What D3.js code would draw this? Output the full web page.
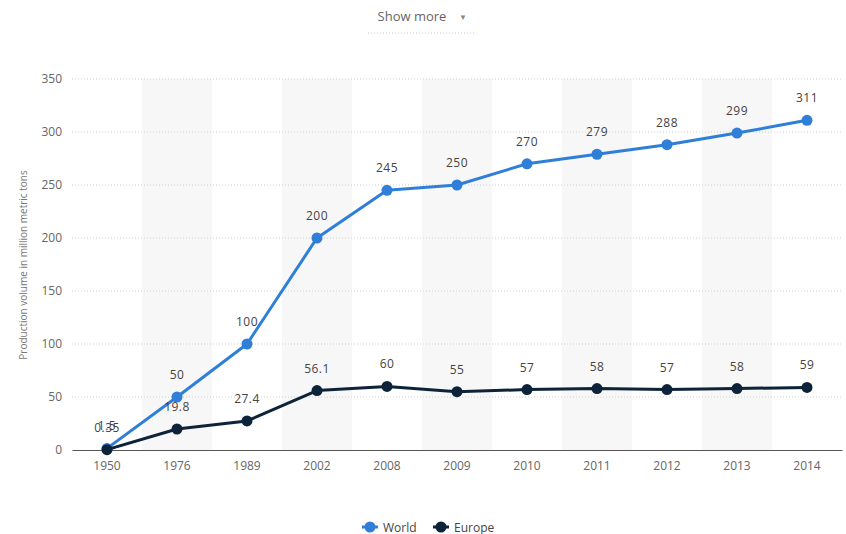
<!DOCTYPE html>
<html><head><meta charset="utf-8">
<script src="https://cdn.jsdelivr.net/npm/d3@7/dist/d3.min.js"></script>
<style>
body{margin:0;background:#fff;}
svg{font-family:"Open Sans","Noto Sans",sans-serif;}
</style></head>
<body><svg id="c" width="846" height="534"></svg>
<script>
const years = ["1950","1976","1989","2002","2008","2009","2010","2011","2012","2013","2014"];
const world = [1.5,50,100,200,245,250,270,279,288,299,311];
const europe = [0.35,19.8,27.4,56.1,60,55,57,58,57,58,59];
const worldLabels = ["1.5","50","100","200","245","250","270","279","288","299","311"];
const europeLabels = ["0.35","19.8","27.4","56.1","60","55","57","58","57","58","59"];
const yTicks = [0,50,100,150,200,250,300,350];

(function(){
const svg = d3.select("#c");
const pL = 72, pR = 842, pT = 79, pB = 450;
const x = d3.scaleBand().domain(years).range([pL, pR]);
const y = d3.scaleLinear().domain([0,350]).range([pB, pT]);

// alternating bands
svg.append("g").selectAll("rect").data(years.filter((d,i)=>i%2===1)).join("rect")
  .attr("x", d=>x(d)).attr("y", pT).attr("width", x.bandwidth()).attr("height", pB-pT)
  .attr("fill","#f7f7f7");

// grid
svg.append("g").selectAll("line").data(yTicks.filter(d=>d>0)).join("line")
  .attr("x1", pL).attr("x2", pR).attr("y1", d=>y(d)).attr("y2", d=>y(d))
  .attr("stroke","#cfcfcf").attr("stroke-dasharray","1,2");

// y axis labels
const ya = svg.append("g").attr("transform",`translate(${pL},0)`)
  .call(d3.axisLeft(y).tickValues(yTicks).tickSize(0).tickPadding(10));
ya.select(".domain").remove();
ya.selectAll("text").attr("fill","#666").attr("font-size","12px").attr("font-family","'Open Sans',sans-serif");

// x axis
const xa = svg.append("g").attr("transform",`translate(0,${pB})`)
  .call(d3.axisBottom(x).tickSize(0).tickPadding(11));
xa.select(".domain").attr("stroke","#555").attr("stroke-width",1.2);
xa.selectAll("text").attr("fill","#666").attr("font-size","12px").attr("font-family","'Open Sans',sans-serif");

// y title
svg.append("text").attr("transform",`translate(27,265) rotate(-90)`).attr("text-anchor","middle")
  .attr("fill","#777").attr("font-size","10px").text("Production volume in million metric tons");

const cx = d => x(d) + x.bandwidth()/2;
const line = d3.line().x((d,i)=>cx(years[i])).y(d=>y(d));

function series(vals, color){
  const g = svg.append("g");
  g.append("path").datum(vals).attr("d", line).attr("fill","none").attr("stroke",color).attr("stroke-width",3).attr("stroke-linejoin","round");
  g.selectAll("circle").data(vals).join("circle").attr("cx",(d,i)=>cx(years[i])).attr("cy",d=>y(d)).attr("r",5.5).attr("fill",color);
}
function labelsFor(vals, labels){
  svg.append("g").selectAll("text").data(vals).join("text")
    .attr("x",(d,i)=>cx(years[i])).attr("y",d=>y(d)-18).attr("text-anchor","middle")
    .attr("fill","#444").attr("font-size","12px").attr("letter-spacing","0.5px")
    .text((d,i)=>labels[i]);
}
series(world, "#2f7ed8");
series(europe, "#0d233a");
labelsFor(world, worldLabels);
labelsFor(europe, europeLabels);

// show more
svg.append("text").attr("x",412).attr("y",21).attr("text-anchor","middle").attr("fill","#666").attr("font-size","13px").text("Show more");
svg.append("text").attr("x",463).attr("y",20).attr("text-anchor","middle").attr("fill","#888").attr("font-size","8px").text("▼");
svg.append("line").attr("x1",368).attr("x2",474).attr("y1",33).attr("y2",33).attr("stroke","#ccc").attr("stroke-dasharray","1,2");

// legend
const leg = [{n:"World",c:"#2f7ed8",x:362},{n:"Europe",c:"#0d233a",x:433}];
const lg = svg.append("g").selectAll("g").data(leg).join("g").attr("transform",d=>`translate(${d.x},527)`);
lg.append("line").attr("x1",0).attr("x2",16).attr("y1",0).attr("y2",0).attr("stroke",d=>d.c).attr("stroke-width",3);
lg.append("circle").attr("cx",8).attr("cy",0).attr("r",5.5).attr("fill",d=>d.c);
lg.append("text").attr("x",21).attr("y",4.5).attr("fill","#444").attr("font-size","12px").text(d=>d.n);
})();
</script></body></html>
